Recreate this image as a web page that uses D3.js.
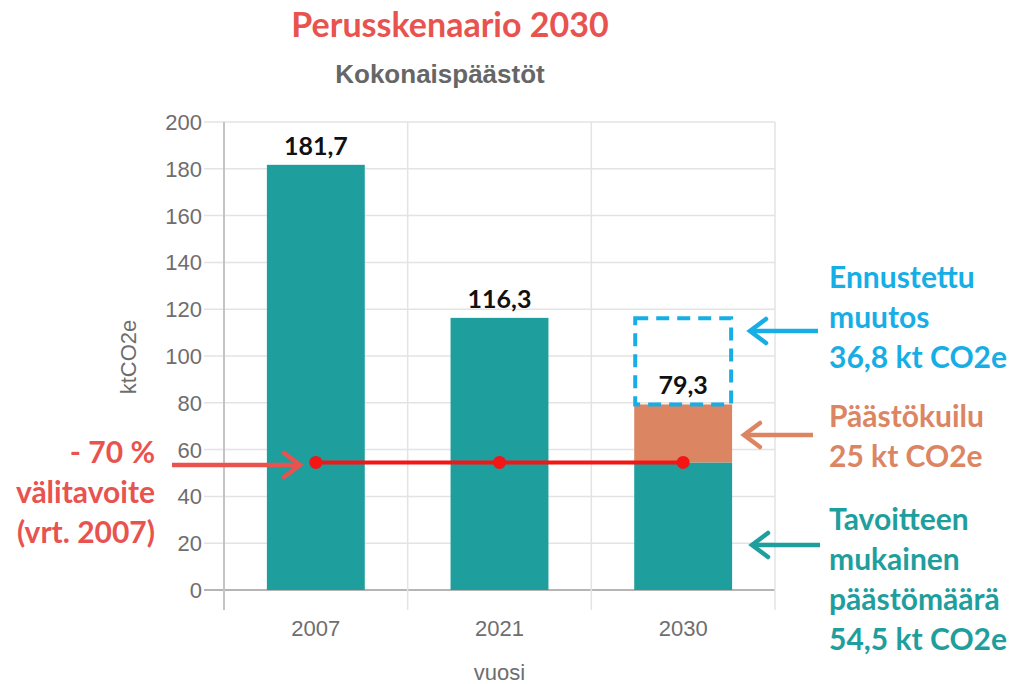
<!DOCTYPE html>
<html>
<head>
<meta charset="utf-8">
<script src="https://cdn.jsdelivr.net/npm/d3@7"></script>
<style>
  body { margin: 0; background: #fff; }
  svg { display: block; }
</style>
</head>
<body>
<svg id="chart"></svg>
<script>
// --- data ---
const years = ["2007", "2021", "2030"];
const totals = [181.7, 116.3, 79.3];          // bar labels
const targetPart = [181.7, 116.3, 54.5];      // teal part
const gapPart = [0, 0, 24.8];                 // orange "päästökuilu"
const changePart = [0, 0, 36.8];              // dashed "ennustettu muutos"
const targetLine = [54.5, 54.5, 54.5];        // -70 % välitavoite
const yTicks = [0, 20, 40, 60, 80, 100, 120, 140, 160, 180, 200];

const width = 1012, height = 684;
const teal = "#1f9e9e", orange = "#dc8563", blue = "#17aee6", red = "#e8534f";

const svg = d3.select("#chart").attr("width", width).attr("height", height);

const left = 224, right = 775;
const x = d3.scaleBand().domain(years).range([left, right])
  .paddingInner(0.467).paddingOuter(0.2335);
const y = d3.scaleLinear().domain([0, 200]).range([590, 122]);
const step = x.step();

// --- grid ---
const grid = svg.append("g");
grid.selectAll("line.h").data(yTicks).join("line")
  .attr("x1", 204).attr("x2", right)
  .attr("y1", d => y(d)).attr("y2", d => y(d))
  .attr("stroke", d => d === 0 ? "#b5b5b5" : "#e3e3e3")
  .attr("stroke-width", d => d === 0 ? 2 : 1.5);
grid.selectAll("line.v").data(d3.range(years.length + 1)).join("line")
  .attr("x1", i => left + i * step).attr("x2", i => left + i * step)
  .attr("y1", y(200)).attr("y2", 610)
  .attr("stroke", i => i === 0 ? "#c4c4c4" : "#e3e3e3")
  .attr("stroke-width", i => i === 0 ? 2 : 1.5);

// y tick labels
svg.append("g").selectAll("text").data(yTicks).join("text")
  .attr("x", 202).attr("y", d => y(d)).attr("dy", "0.36em")
  .attr("text-anchor", "end")
  .attr("font-family", "Liberation Sans, Arial, sans-serif")
  .attr("font-size", 22).attr("fill", "#6e6e6e")
  .text(d => d);

// x tick labels
svg.append("g").selectAll("text").data(years).join("text")
  .attr("x", d => x(d) + x.bandwidth() / 2).attr("y", 636)
  .attr("text-anchor", "middle")
  .attr("font-family", "Liberation Sans, Arial, sans-serif")
  .attr("font-size", 22).attr("fill", "#6e6e6e")
  .text(d => d);

svg.append("text")
  .attr("x", (left + right) / 2).attr("y", 680)
  .attr("text-anchor", "middle")
  .attr("font-family", "Liberation Sans, Arial, sans-serif")
  .attr("font-size", 22).attr("fill", "#6e6e6e")
  .text("vuosi");

svg.append("text")
  .attr("transform", `translate(136,357) rotate(-90)`)
  .attr("text-anchor", "middle")
  .attr("font-family", "Liberation Sans, Arial, sans-serif")
  .attr("font-size", 22).attr("fill", "#6e6e6e")
  .text("ktCO2e");

// --- bars ---
const rows = years.map((yr, i) => ({
  year: yr, total: totals[i], target: targetPart[i], gap: gapPart[i], change: changePart[i]
}));

svg.append("g").selectAll("rect").data(rows).join("rect")
  .attr("x", d => x(d.year)).attr("width", x.bandwidth())
  .attr("y", d => y(d.target)).attr("height", d => y(0) - y(d.target))
  .attr("fill", teal);

svg.append("g").selectAll("rect").data(rows.filter(d => d.gap > 0)).join("rect")
  .attr("x", d => x(d.year)).attr("width", x.bandwidth())
  .attr("y", d => y(d.target + d.gap)).attr("height", d => y(d.target) - y(d.target + d.gap))
  .attr("fill", orange);

svg.append("g").selectAll("rect").data(rows.filter(d => d.change > 0)).join("rect")
  .attr("x", d => x(d.year) + 1).attr("width", x.bandwidth() - 2)
  .attr("y", d => y(d.total + d.change)).attr("height", d => y(d.total) - y(d.total + d.change))
  .attr("fill", "none").attr("stroke", blue).attr("stroke-width", 4)
  .attr("stroke-dasharray", "13,8");

// value labels
svg.append("g").selectAll("text").data(rows).join("text")
  .attr("x", d => x(d.year) + x.bandwidth() / 2)
  .attr("y", d => y(d.total) - 10)
  .attr("text-anchor", "middle")
  .attr("font-family", "Lato, sans-serif").attr("font-weight", "bold")
  .attr("font-size", 25).attr("fill", "#111")
  .text(d => d3.format(".1f")(d.total).replace(".", ","));

// target line
const cx = d => x(d) + x.bandwidth() / 2;
const pts = years.map((yr, i) => [cx(yr), y(targetLine[i])]);
svg.append("path")
  .attr("d", d3.line()(pts))
  .attr("stroke", "#f41515").attr("stroke-width", 4).attr("fill", "none");
svg.append("g").selectAll("circle").data(pts).join("circle")
  .attr("cx", d => d[0]).attr("cy", d => d[1]).attr("r", 6.5)
  .attr("fill", "#f41515");

// --- titles ---
svg.append("text")
  .attr("x", 450).attr("y", 37).attr("text-anchor", "middle")
  .attr("font-family", "Lato, sans-serif").attr("font-weight", "bold")
  .attr("font-size", 34).attr("fill", red)
  .text("Perusskenaario 2030");
svg.append("text")
  .attr("x", 440).attr("y", 83).attr("text-anchor", "middle")
  .attr("font-family", "Liberation Sans, Arial, sans-serif").attr("font-weight", "bold")
  .attr("font-size", 26).attr("fill", "#666")
  .text("Kokonaispäästöt");

// --- annotations ---
function arrow(x1, x2, yy, color) {
  const dir = Math.sign(x2 - x1);
  svg.append("line")
    .attr("x1", x1).attr("x2", x2 - dir * 2).attr("y1", yy).attr("y2", yy)
    .attr("stroke", color).attr("stroke-width", 4.5);
  svg.append("path")
    .attr("d", `M${x2 - dir * 16},${yy - 12} L${x2},${yy} L${x2 - dir * 16},${yy + 12}`)
    .attr("stroke", color).attr("stroke-width", 4.5).attr("fill", "none")
    .attr("stroke-linecap", "round").attr("stroke-linejoin", "miter");
}

function block(lines, xx, y0, anchor, color) {
  svg.append("g").selectAll("text").data(lines).join("text")
    .attr("x", xx).attr("y", (d, i) => y0 + i * 40)
    .attr("text-anchor", anchor)
    .attr("font-family", "Lato, sans-serif").attr("font-weight", "bold")
    .attr("font-size", 30).attr("fill", color)
    .text(d => d);
}

block(["- 70 %", "välitavoite", "(vrt. 2007)"], 155, 463, "end", red);
arrow(172, 300, 465, red);

block(["Ennustettu", "muutos", "36,8 kt CO2e"], 829, 288, "start", blue);
arrow(818, 750, 331, blue);

block(["Päästökuilu", "25 kt CO2e"], 829, 427, "start", orange);
arrow(813, 744, 435, orange);

block(["Tavoitteen", "mukainen", "päästömäärä", "54,5 kt CO2e"], 829, 530, "start", teal);
arrow(820, 752, 545, teal);
</script>
</body>
</html>
